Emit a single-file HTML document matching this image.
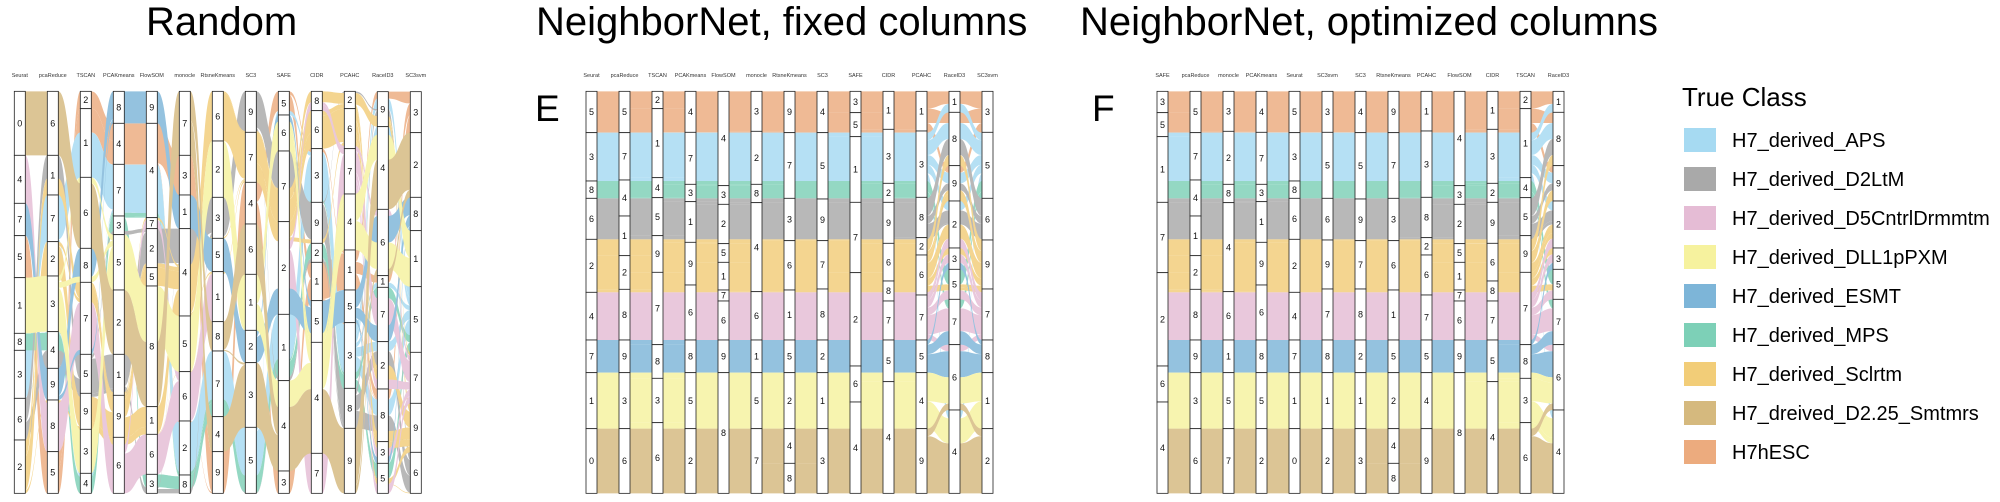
<!DOCTYPE html>
<html><head><meta charset="utf-8">
<style>
html,body{margin:0;padding:0;background:#fff;}
svg{display:block;font-family:"Liberation Sans",Arial,sans-serif;}
</style></head>
<body>
<svg id="s" width="2000" height="502" viewBox="0 0 2000 502" xmlns="http://www.w3.org/2000/svg">
<rect width="2000" height="502" fill="#fff"/>
<text x="146" y="35" font-size="40">Random</text>
<text x="536" y="35" font-size="40">NeighborNet, fixed columns</text>
<text x="1080" y="35" font-size="40">NeighborNet, optimized columns</text>
<text x="535" y="121" font-size="37">E</text>
<text x="1092" y="121" font-size="37">F</text>
<text x="1682" y="106" font-size="26">True Class</text>
<g font-size="20">
<rect x="1684" y="128" width="32" height="24" fill="#a6daf2"/><text x="1732" y="147">H7_derived_APS</text>
<rect x="1684" y="167" width="32" height="24" fill="#a9a9a9"/><text x="1732" y="186">H7_derived_D2LtM</text>
<rect x="1684" y="206" width="32" height="24" fill="#e5bcd5"/><text x="1732" y="225">H7_derived_D5CntrlDrmmtm</text>
<rect x="1684" y="245" width="32" height="24" fill="#f6f29e"/><text x="1732" y="264">H7_derived_DLL1pPXM</text>
<rect x="1684" y="284" width="32" height="24" fill="#7db5d8"/><text x="1732" y="303">H7_derived_ESMT</text>
<rect x="1684" y="323" width="32" height="24" fill="#7dd0b7"/><text x="1732" y="342">H7_derived_MPS</text>
<rect x="1684" y="362" width="32" height="24" fill="#f2cd78"/><text x="1732" y="381">H7_derived_Sclrtm</text>
<rect x="1684" y="401" width="32" height="24" fill="#d5b97e"/><text x="1732" y="420">H7_dreived_D2.25_Smtmrs</text>
<rect x="1684" y="440" width="32" height="24" fill="#ecab7e"/><text x="1732" y="459">H7hESC</text>
</g>
</svg>
<script>
(function(){
const NS='http://www.w3.org/2000/svg';
const svg=document.getElementById('s');
function el(t,a,p){const e=document.createElementNS(NS,t);for(const k in a)e.setAttribute(k,a[k]);(p||svg).appendChild(e);return e;}
const COL=['#ecab7e','#a6daf2','#7dd0b7','#a9a9a9','#f2cd78','#e5bcd5','#7db5d8','#f6f29e','#d5b97e'];
const CZ=[[124,248],[248,393],[393,445],[445,568],[568,727],[727,870],[870,968],[968,1136],[1136,1330]];
const E={
Seurat:[[124,248,393,445,568,727,870,968,1136,1330],[5,3,8,6,2,4,7,1,0]],
pcaReduce:[[124,248,390,498,617,718,870,968,1136,1330],[5,7,4,1,2,8,9,3,6]],
TSCAN:[[124,176,383,443,557,667,884,985,1118,1330],[2,1,4,5,9,7,8,3,6]],
PCAKmeans:[[124,247,403,455,577,705,870,968,1136,1330],[4,7,3,1,9,6,8,5,2]],
FlowSOM:[[124,407,463,581,637,720,753,870,968,1330],[4,3,2,5,1,7,6,9,8]],
monocle:[[124,244,403,458,725,870,968,1136,1330],[3,2,8,4,6,1,5,7]],
RtsneKmeans:[[124,248,445,572,720,870,968,1136,1240,1330],[9,7,3,6,1,5,2,4,8]],
SC3:[[124,248,447,572,717,870,968,1136,1330],[4,5,9,7,8,2,1,3]],
SAFE:[[124,188,260,457,668,948,1056,1330],[3,5,1,7,2,6,4]],
CIDR:[[124,238,400,457,580,693,753,870,995,1330],[1,3,2,9,6,8,7,5,4]],
PCAHC:[[124,243,442,563,615,735,870,968,1136,1330],[1,3,8,2,6,7,5,4,9]],
RaceID3:[[124,187,347,453,594,658,748,884,1080,1330],[1,8,9,2,3,5,7,6,4]],
SC3svm:[[124,247,445,570,717,870,968,1136,1330],[3,5,6,9,7,8,1,2]]
};
const R={
Seurat:[[124,316,460,557,683,850,901,1045,1170,1330],[0,4,7,5,1,8,3,6,2]],
pcaReduce:[[124,316,435,575,678,845,955,1050,1205,1330],[6,1,7,2,3,4,9,8,5]],
TSCAN:[[124,176,382,595,697,913,1030,1138,1270,1330],[2,1,6,8,7,5,9,3,4]],
PCAKmeans:[[124,220,343,498,554,720,913,1036,1162,1330],[8,4,7,3,5,2,1,9,6]],
FlowSOM:[[124,220,503,536,653,708,1070,1153,1273,1330],[9,4,7,2,5,8,1,6,3]],
monocle:[[124,316,435,536,798,965,1113,1275,1330],[7,3,1,4,5,6,2,8]],
RtsneKmeans:[[124,273,442,565,665,815,903,1100,1205,1330],[6,2,3,5,1,8,7,4,9]],
SC3:[[124,247,397,522,673,841,938,1132,1330],[9,7,4,6,1,2,3,5]],
SAFE:[[124,195,303,515,793,992,1263,1330],[5,6,7,2,1,4,3]],
CIDR:[[124,182,296,457,580,637,752,877,1210,1330],[8,6,3,9,2,1,5,4,7]],
PCAHC:[[124,176,296,432,600,720,818,1015,1135,1330],[2,6,7,4,1,5,3,8,9]],
RaceID3:[[125,230,478,677,712,875,1017,1175,1240,1330],[9,4,6,1,7,2,8,3,5]],
SC3svm:[[125,248,442,542,710,907,1060,1207,1330],[3,2,8,1,5,7,9,6]]
};
const ORD=['Seurat','pcaReduce','TSCAN','PCAKmeans','FlowSOM','monocle','RtsneKmeans','SC3','SAFE','CIDR','PCAHC','RaceID3','SC3svm'];
const ORDF=['SAFE','pcaReduce','monocle','PCAKmeans','Seurat','SC3svm','SC3','RtsneKmeans','PCAHC','FlowSOM','CIDR','TSCAN','RaceID3'];
const COMP={};
for(const n in E){COMP[n]={};const b=E[n][0],l=E[n][1];
 for(let k=0;k<l.length;k++){COMP[n][l[k]]=CZ.map(([a,c])=>{const v=Math.min(c,b[k+1])-Math.max(a,b[k]);return v>0.5?v:0;});}}
COMP.RaceID3={
1:[.6,.4,0,0,0,0,0,0,0],
8:[.2,.3,0,.3,.2,0,0,0,0],
9:[.2,.3,0,.2,.3,0,0,0,0],
2:[0,.2,0,.3,.3,.2,0,0,0],
3:[0,0,0,0,.3,.4,.3,0,0],
5:[0,0,.5,0,.2,.3,0,0,0],
7:[0,0,.2,0,0,.5,.3,0,0],
6:[0,0,0,0,0,.1,.4,.4,.1],
4:[0,.1,0,0,0,0,0,.3,.6]};
const Y=z=>50+z/3;
function panel(x0,names,src){
 const cols=names.map((n,i)=>{const x=x0+33*i;const b=src[n][0],l=src[n][1];const segs=[];const sub=COL.map(()=>[]);
  for(let k=0;k<l.length;k++){const y0=Y(b[k]),y1=Y(b[k+1]);const w=COMP[n][l[k]]||[0,0,0,0,0,0,0,0,1];
   const tot=w.reduce((a,c)=>a+c,0)||1;let y=y0;
   for(let c=0;c<9;c++){if(w[c]>0){const h=(y1-y0)*w[c]/tot;sub[c].push([y,y+h]);y+=h;}}
   segs.push([y0,y1,l[k]]);}
  return {x,n,segs,sub};});
 const g=el('g',{opacity:'0.82'});
 for(let i=0;i<cols.length-1;i++){const A=cols[i],B=cols[i+1];const x1=A.x+11,x2=B.x,xm=(x1+x2)/2;
  for(let c=0;c<9;c++){const L=A.sub[c],Rr=B.sub[c];if(!L.length||!Rr.length)continue;
   const TL=L.reduce((s,r)=>s+r[1]-r[0],0),TR=Rr.reduce((s,r)=>s+r[1]-r[0],0);
   const pL=L.map(r=>(r[1]-r[0])/TL),pR=Rr.map(r=>(r[1]-r[0])/TR);
   let i1=0,i2=0,a=0,bb=0,guard=0;
   while(i1<L.length&&i2<Rr.length&&guard++<200){const t=Math.min(pL[i1]-a,pR[i2]-bb);
    const la=L[i1][0]+a*TL,lb=la+t*TL,ra=Rr[i2][0]+bb*TR,rb=ra+t*TR;
    if(t>1e-6)el('path',{d:`M${x1},${la.toFixed(2)}C${xm},${la.toFixed(2)} ${xm},${ra.toFixed(2)} ${x2},${ra.toFixed(2)}L${x2},${rb.toFixed(2)}C${xm},${rb.toFixed(2)} ${xm},${lb.toFixed(2)} ${x1},${lb.toFixed(2)}Z`,fill:COL[c]},g);
    a+=t;bb+=t;if(pL[i1]-a<1e-9){i1++;a=0;}if(pR[i2]-bb<1e-9){i2++;bb=0;}}
  }}
 cols.forEach(C=>{
  const t=el('text',{x:C.x+5.5,y:77,'font-size':'5.5','text-anchor':'middle',fill:'#333'});t.textContent=C.n;
  C.segs.forEach(s=>{el('rect',{x:C.x,y:s[0].toFixed(2),width:11,height:(s[1]-s[0]).toFixed(2),fill:'#fff',stroke:'#222','stroke-width':'0.8'});
   const tt=el('text',{x:C.x+5.5,y:((s[0]+s[1])/2+3.2).toFixed(2),'font-size':'9','text-anchor':'middle',fill:'#111'});tt.textContent=String(s[2]);});
 });
}
panel(14.3,ORD,R);
panel(586,ORD,E);
panel(1157,ORDF,E);
})();
</script>
</body></html>
